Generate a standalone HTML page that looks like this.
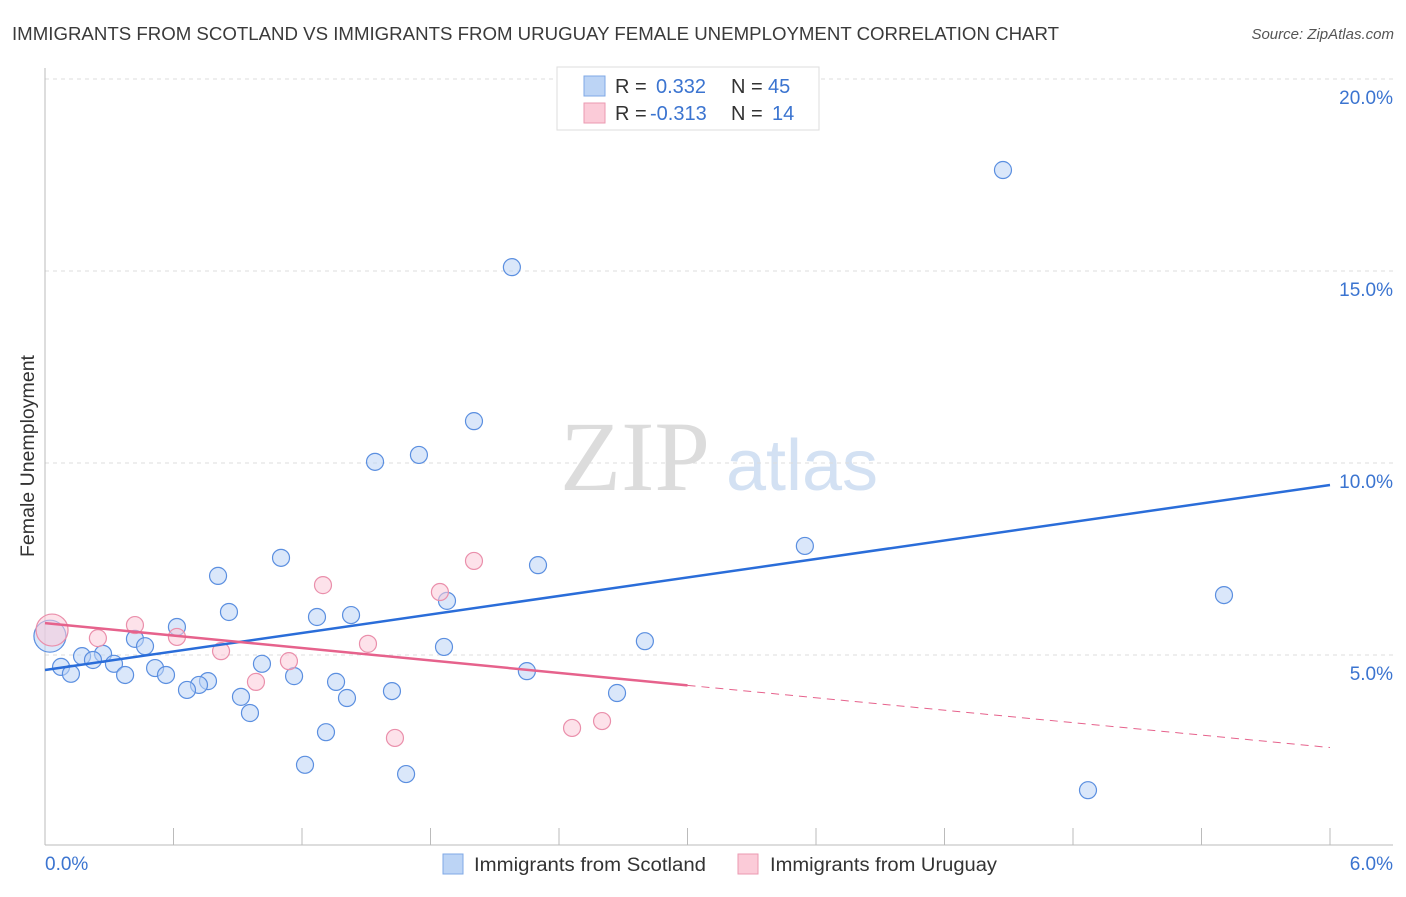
<!DOCTYPE html>
<html><head><meta charset="utf-8"><style>
body{margin:0;background:#fff;font-family:"Liberation Sans",sans-serif;}
svg text{font-family:"Liberation Sans",sans-serif;}
</style></head><body>
<svg id="chart" width="1406" height="892">
<text x="12" y="40" font-size="18.5" fill="#3a3a3a" textLength="1047" lengthAdjust="spacingAndGlyphs">IMMIGRANTS FROM SCOTLAND VS IMMIGRANTS FROM URUGUAY FEMALE UNEMPLOYMENT CORRELATION CHART</text>
<text x="1394" y="39" font-size="15" font-style="italic" fill="#555" text-anchor="end">Source: ZipAtlas.com</text>
<text x="34" y="456" font-size="19" fill="#333" text-anchor="middle" textLength="202" lengthAdjust="spacingAndGlyphs" transform="rotate(-90 34 456)">Female Unemployment</text>
<g>
<text x="635" y="490" font-size="100" style="font-family:'Liberation Serif',serif" fill="#dcdcdc" text-anchor="middle">ZIP</text>
<text x="802" y="490" font-size="72" fill="#d3e1f3" text-anchor="middle">atlas</text>
</g>
<g id="grid"></g><g id="axes"></g><g id="marks"></g>
<g>
<rect x="557" y="67" width="262" height="63" fill="#fff" stroke="#ddd"/>
<rect x="584" y="76" width="21" height="20" fill="#bcd4f5" stroke="#7fa8e6"/>
<rect x="584" y="103" width="21" height="20" fill="#fbcbd8" stroke="#eb9ab1"/>
<text x="615" y="93" font-size="20" fill="#333">R = <tspan fill="#3b74d0" x="656">0.332</tspan><tspan fill="#333" x="731">N = </tspan><tspan fill="#3b74d0" x="768">45</tspan></text>
<text x="615" y="120" font-size="20" fill="#333">R = <tspan fill="#3b74d0" x="650">-0.313</tspan><tspan fill="#333" x="731">N = </tspan><tspan fill="#3b74d0" x="772">14</tspan></text>
</g>
<g>
<rect x="443" y="854" width="20" height="20" fill="#bcd4f5" stroke="#7fa8e6"/>
<text x="474" y="871" font-size="19" fill="#333" textLength="232" lengthAdjust="spacingAndGlyphs">Immigrants from Scotland</text>
<rect x="738" y="854" width="20" height="20" fill="#fbcbd8" stroke="#eb9ab1"/>
<text x="770" y="871" font-size="19" fill="#333" textLength="227" lengthAdjust="spacingAndGlyphs">Immigrants from Uruguay</text>
</g>
</svg>
<script>
const yTicks=[5,10,15,20];
const yTickLabels=["5.0%","10.0%","15.0%","20.0%"];
const xTickCount=11;
const xLabels=["0.0%","6.0%"];
const blueX=[4.473,2.180,2.003,1.541,1.746,1.102,0.808,2.302,3.548,5.505,0.859,1.270,1.429,1.877,0.616,0.420,0.467,1.863,2.801,0.271,0.173,0.224,0.322,1.013,0.075,0.514,0.565,0.121,0.374,2.250,1.163,0.761,0.719,0.663,1.359,1.620,2.671,0.915,1.410,0.957,1.312,1.214,1.686,4.870,0.023];
const blueY=[17.63,15.10,11.09,10.03,10.21,7.53,7.06,7.34,7.84,6.56,6.12,5.99,6.04,6.41,5.73,5.42,5.23,5.21,5.36,5.03,4.97,4.87,4.77,4.77,4.69,4.66,4.48,4.51,4.48,4.58,4.45,4.32,4.22,4.09,4.30,4.06,4.01,3.91,3.88,3.49,2.99,2.14,1.90,1.48,5.49];
const blueBig=[44];
const pinkX=[0.033,0.247,0.420,0.616,0.822,0.985,1.139,1.298,1.508,1.634,1.844,2.003,2.461,2.601];
const pinkY=[5.65,5.44,5.78,5.47,5.10,4.30,4.84,6.82,5.29,2.84,6.64,7.45,3.10,3.28];
const pinkBig=[0];
const blueTrend=[4.61,0.803]; // intercept, slope
const pinkTrend=[5.83,-0.54];
const pinkSolidEnd=3.0;

const NS="http://www.w3.org/2000/svg";
const X0=45,X1=1330,Y0=847,PX=38.4;
const sx=v=>X0+(X1-X0)*v/6, sy=v=>Y0-v*PX;
function mk(t,a,p){const e=document.createElementNS(NS,t);for(const k in a)e.setAttribute(k,a[k]);p.appendChild(e);return e;}
const grid=document.getElementById('grid'),axes=document.getElementById('axes'),marks=document.getElementById('marks');
yTicks.forEach((v,i)=>{
 const l=mk('line',{x1:45,x2:1393,y1:sy(v),y2:sy(v),stroke:'#ddd','stroke-dasharray':'4,4'},grid);
 
 
 const t=mk('text',{x:1393,y:sy(v)+25,'font-size':19,fill:'#3b74d0','text-anchor':'end'},axes);
 t.textContent=yTickLabels[i];
 
 
});
const tl=mk('line',{x1:45,x2:1393,y1:79,y2:79,stroke:'#ddd','stroke-dasharray':'4,4'},grid);
mk('line',{x1:45,x2:45,y1:68,y2:845,stroke:'#bbb'},axes);
const xa=mk('line',{x1:45,x2:1393,y1:845,y2:845,stroke:'#bbb'},axes);


for(let i=0;i<xTickCount;i++){const x=X0+(X1-X0)*i/(xTickCount-1);mk('line',{x1:x,x2:x,y1:828,y2:845,stroke:'#bbb'},axes);}
[[X0,'start',0],[1393,'end',1]].forEach(([x,a,i])=>{const t=mk('text',{x:x,y:870,'font-size':19,fill:'#3b74d0','text-anchor':a},axes);t.textContent=xLabels[i];
 
 });
function dots(xs,ys,big,fill,stroke,name){xs.forEach((x,i)=>{const c=mk('circle',{cx:sx(x),cy:sy(ys[i]),r:big.includes(i)?16:8.5,fill:fill,'fill-opacity':0.55,stroke:stroke,'stroke-width':1.2},marks);
 
 });}
dots(blueX,blueY,blueBig,'#bcd4f5','#5b8fe0','scotland-point');
dots(pinkX,pinkY,pinkBig,'#fbcbd8','#ea8fab','uruguay-point');
const bl=mk('line',{x1:sx(0),y1:sy(blueTrend[0]),x2:sx(6),y2:sy(blueTrend[0]+6*blueTrend[1]),stroke:'#2a6dd9','stroke-width':2.5},marks);


const pl=mk('line',{x1:sx(0),y1:sy(pinkTrend[0]),x2:sx(pinkSolidEnd),y2:sy(pinkTrend[0]+pinkSolidEnd*pinkTrend[1]),stroke:'#e6628c','stroke-width':2.5},marks);


const pd=mk('line',{x1:sx(pinkSolidEnd),y1:sy(pinkTrend[0]+pinkSolidEnd*pinkTrend[1]),x2:sx(6),y2:sy(pinkTrend[0]+6*pinkTrend[1]),stroke:'#e6628c','stroke-width':1,'stroke-dasharray':'8,6'},marks);


</script>
</body></html>
